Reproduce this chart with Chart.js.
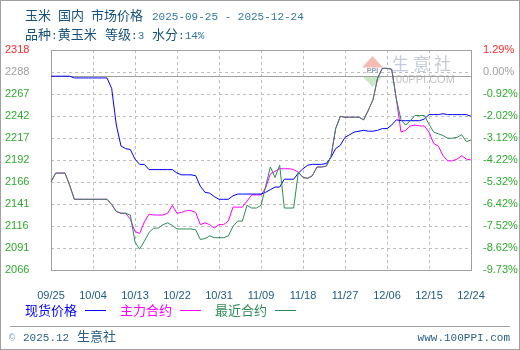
<!DOCTYPE html>
<html><head><meta charset="utf-8">
<script src="https://cdn.jsdelivr.net/npm/chart.js@4/dist/chart.umd.min.js"></script>
<style>
html,body{margin:0;padding:0;background:#fff}
#wrap{position:relative;width:520px;height:350px;overflow:hidden;background:#fff}
#frame{position:absolute;left:0;top:0;width:518px;height:348px;border:1px solid #a0a0a0;pointer-events:none}
canvas{position:absolute;left:0;top:0}
.t{position:absolute;white-space:nowrap;line-height:16px;height:16px}
.cn{font-family:"Noto Sans CJK SC";font-size:13px}
.mn{font-family:"Liberation Mono";font-size:11px}
.dk{color:#15507e}
.lt{color:#3277a8}
#sep{position:absolute;left:10px;top:326px;width:500px;height:1px;background:#a0a0a0}
.lg{position:absolute;height:1px;top:310px;width:21px}
</style></head>
<body>
<div id="wrap">
<canvas id="c" width="520" height="350"></canvas>
<div class="t" style="left:25px;top:7px"><span class="cn dk">玉米</span></div>
<div class="t" style="left:58px;top:7px"><span class="cn dk">国内</span></div>
<div class="t" style="left:91px;top:7px"><span class="cn dk">市场价格</span></div>
<div class="t" style="left:152px;top:7px"><span class="mn lt">2025-09-25 - 2025-12-24</span></div>
<div class="t" style="left:25px;top:26px"><span class="cn dk">品种</span><span class="mn dk">:</span><span class="cn dk">黄玉米</span></div>
<div class="t" style="left:105px;top:26px"><span class="cn dk">等级</span><span class="mn dk">:</span><span class="mn lt">3</span></div>
<div class="t" style="left:152px;top:26px"><span class="cn dk">水分</span><span class="mn dk">:</span><span class="mn lt">14%</span></div>
<div id="legend"></div>
<div id="sep"></div>
<div class="t" style="left:9px;top:328px"><span class="mn" style="color:#8aa0b0;font-size:10px">©</span></div>
<div class="t" style="left:23px;top:328px"><span class="mn" style="color:#2a5f85">2025.12</span></div>
<div class="t" style="left:77px;top:328px"><span class="cn" style="color:#2a5f85">生意社</span></div>
<div class="t" style="right:10px;top:328px"><span class="mn" style="color:#2a5f85">www.100PPI.com</span></div>
<div id="frame"></div>
</div>
<script>
// ---- data ----
const startYear = 2025, startMonth = 9, startDay = 25, dayCount = 91;
const dates = [];
for (let i = 0; i < dayCount; i++) {
  const d = new Date(startYear, startMonth - 1, startDay + i);
  dates.push(String(d.getMonth() + 1).padStart(2, '0') + '/' + String(d.getDate()).padStart(2, '0'));
}
const xTickLabels = ['09/25','10/04','10/13','10/22','10/31','11/09','11/18','11/27','12/06','12/15','12/24'];
const priceTickLabels = ['2318','2288','2267','2242','2217','2192','2166','2141','2116','2091','2066'];
const pctTickLabels = ['1.29%','0.00%','-0.92%','-2.02%','-3.12%','-4.22%','-5.32%','-6.42%','-7.52%','-8.62%','-9.73%'];
const yMin = 2066, yMax = 2318;
const baseValue = 2288;
const seriesNames = ['现货价格', '主力合约', '最近合约'];

const spotPrice = [
  2288,2288,2288,2288,2288,
  2286,2286,2286,2286,2286,2286,2286,2286,
  2274,2232,2208,2205,2204,
  2193,2187,2187,
  2181,2181,2181,2181,2181,2181,
  2177,2175,2175,2175,
  2174,2162,2155,2154,2150,
  2147,2147,2147,
  2151,2153,2153,2153,2153,2153,2153,
  2155,2158,2161,2161,
  2170,2170,2170,
  2177,2182,2186,2187,2187,2187,
  2188,2195,2205,2209,2218,2221,2224,2225,2226,
  2225,2225,2226,2228,2228,
  2232,2238,2237,2237,2237,2237,2237,
  2239,2244,2244,2244,2245,
  2244,2244,2244,2244,2244,
  2242
];
const mainContract = [
  2167,2177,2177,2177,2163,
  2147,2147,2147,2147,2147,2147,2147,2147,
  2141,2133,2131,2131,
  2124,2110,2108,2121,2130,2129,2129,2129,
  2131,2140,2131,2132,2134,2134,
  2132,2118,2120,2118,2114,2118,2118,2122,
  2138,2138,2138,2145,2152,2152,2152,
  2160,2176,2179,2182,2182,2182,2181,
  2178,2172,2171,2174,2184,2184,2185,
  2196,2228,2242,2241,2241,2241,2241,2238,
  2249,2261,2286,2297,2297,2296,2262,
  2224,2226,2231,2232,2231,2231,2224,2211,
  2208,2197,2191,2191,2193,2197,2193,2192
];
const nearContract = [
  2167,2177,2177,2177,2163,
  2147,2147,2147,2147,2147,2147,2147,2147,
  2141,2133,2131,2131,2129,
  2098,2090,2099,2109,2114,2114,
  2118,2120,2117,2113,2113,2113,2113,
  2112,2101,2102,2105,2103,2103,2103,
  2105,2116,2122,2122,
  2140,2137,2137,2140,
  2162,2184,2172,2186,
  2137,2137,2137,
  2178,2172,2171,2174,2184,2184,2185,
  2196,2228,2242,2241,2241,2241,2241,2238,
  2249,2261,2286,2297,2297,2296,2262,
  2238,2232,2237,2243,2243,2243,2233,2224,
  2222,2220,2217,2217,2218,2221,2213,2215
];
const seriesColors = ['#0000ff', '#ff00ff', '#2e8b57'];

// ---- legend ----
const legendPos = [[25, 85], [120, 180], [215, 275]];
const lg = document.getElementById('legend');
seriesNames.forEach((n, i) => {
  const t = document.createElement('div');
  t.className = 't';
  t.style.left = legendPos[i][0] + 'px'; t.style.top = '302px';
  t.innerHTML = '<span class="cn" style="color:' + seriesColors[i] + '">' + n + '</span>';
  lg.appendChild(t);
  const l = document.createElement('div');
  l.className = 'lg';
  l.style.left = legendPos[i][1] + 'px';
  l.style.background = seriesColors[i];
  lg.appendChild(l);
});

const tickColor = i => i === 0 ? '#ff2a2a' : (i === 1 ? '#a0a0a0' : '#2eaa2e');
const evenTicks = s => {
  const n = priceTickLabels.length;
  s.ticks = priceTickLabels.map((_, i) => ({ value: yMax - i * (yMax - yMin) / (n - 1) }));
};

const framePlugin = {
  id: 'frame',
  beforeDatasetsDraw(chart) {
    const { ctx, chartArea: a, scales: { x, y } } = chart;
    ctx.save();
    // dashed grid at the scales' tick positions
    ctx.fillStyle = '#bdbdbd';
    const L = Math.round(a.left), R = Math.round(a.right), T = Math.round(a.top), B = Math.round(a.bottom);
    x.ticks.forEach((t, i) => {
      const px = Math.round(x.getPixelForTick(i));
      for (let yy = T; yy < B; yy += 6) ctx.fillRect(px, yy, 1, Math.min(3, B - yy));
    });
    y.ticks.forEach((t, i) => {
      const py = Math.round(y.getPixelForTick(i));
      for (let xx = L; xx < R; xx += 6) ctx.fillRect(xx, py, Math.min(3, R - xx), 1);
    });
    // watermark
    const cx = a.right - 98.5, ty = a.top + 6;
    ctx.fillStyle = '#f4bcb4';
    ctx.beginPath(); ctx.moveTo(cx - 10.5, ty + 11.5); ctx.lineTo(cx + 10.5, ty + 11.5); ctx.lineTo(cx, ty); ctx.closePath(); ctx.fill();
    ctx.fillStyle = '#c8e8c8';
    ctx.beginPath(); ctx.moveTo(cx - 10.5, ty + 20); ctx.lineTo(cx + 10.5, ty + 20); ctx.lineTo(cx, ty + 31); ctx.closePath(); ctx.fill();
    ctx.fillStyle = '#8c9cbc';
    ctx.font = 'bold 7px "Liberation Sans"';
    ctx.textAlign = 'center'; ctx.textBaseline = 'middle';
    ctx.fillText('PPI', cx, ty + 15.5);
    ctx.fillStyle = '#c5cbdc';
    ctx.font = '17px "Noto Sans CJK SC"';
    ctx.textAlign = 'left';
    ['生', '意', '社'].forEach((ch, i) => ctx.fillText(ch, a.right - 79 + i * 21, a.top + 14));
    ctx.fillStyle = '#c4c4c4';
    ctx.font = '11px "Liberation Sans"';
    ctx.fillText('100PPI.COM', a.right - 81, a.top + 30);
    // base line
    const yb = Math.round(y.getPixelForValue(baseValue)) + 0.5;
    ctx.strokeStyle = '#a0a0a0'; ctx.lineWidth = 1;
    ctx.beginPath(); ctx.moveTo(a.left, yb); ctx.lineTo(a.right, yb); ctx.stroke();
    // frame
    ctx.strokeRect(L + 0.5, T + 0.5, R - L, B - T);
    ctx.restore();
  }
};

const tickFont = { family: 'Liberation Sans', size: 11 };
new Chart(document.getElementById('c'), {
  type: 'line',
  data: {
    labels: dates,
    datasets: [
      { label: seriesNames[0], data: spotPrice, borderColor: seriesColors[0], backgroundColor: seriesColors[0], order: 1 },
      { label: seriesNames[1], data: mainContract, borderColor: seriesColors[1], backgroundColor: seriesColors[1], order: 2 },
      { label: seriesNames[2], data: nearContract, borderColor: seriesColors[2], backgroundColor: seriesColors[2], order: 0 }
    ]
  },
  options: {
    responsive: false, animation: false, devicePixelRatio: 1,
    layout: { padding: { left: 5, right: 0, top: 50, bottom: 50 } },
    elements: { point: { radius: 0 }, line: { borderWidth: 1, tension: 0 } },
    plugins: { legend: { display: false }, tooltip: { enabled: false } },
    scales: {
      x: {
        type: 'category', offset: false,
        grid: { display: false },
        border: { display: true, color: '#a0a0a0' },
        ticks: { autoSkip: false, maxRotation: 0, padding: 11, color: '#1d5b85', font: tickFont },
        afterBuildTicks: s => { s.ticks = s.ticks.filter(t => xTickLabels.includes(dates[t.value])); },
        afterFit: s => { s.height = 30; }
      },
      y: {
        position: 'left', min: yMin, max: yMax,
        grid: { display: false },
        border: { display: true, color: '#a0a0a0' },
        ticks: { autoSkip: false, crossAlign: 'far', padding: 4, font: tickFont,
          color: c => tickColor(c.index), callback: (v, i) => priceTickLabels[i] },
        afterBuildTicks: evenTicks,
        afterFit: s => { s.width = 46; }
      },
      y1: {
        position: 'right', min: yMin, max: yMax,
        grid: { display: false },
        border: { display: true, color: '#a0a0a0' },
        ticks: { autoSkip: false, padding: 4, font: tickFont,
          color: c => tickColor(c.index), callback: (v, i) => pctTickLabels[i] },
        afterBuildTicks: evenTicks,
        afterFit: s => { s.width = 49; }
      }
    }
  },
  plugins: [framePlugin]
});
</script>
</body></html>
